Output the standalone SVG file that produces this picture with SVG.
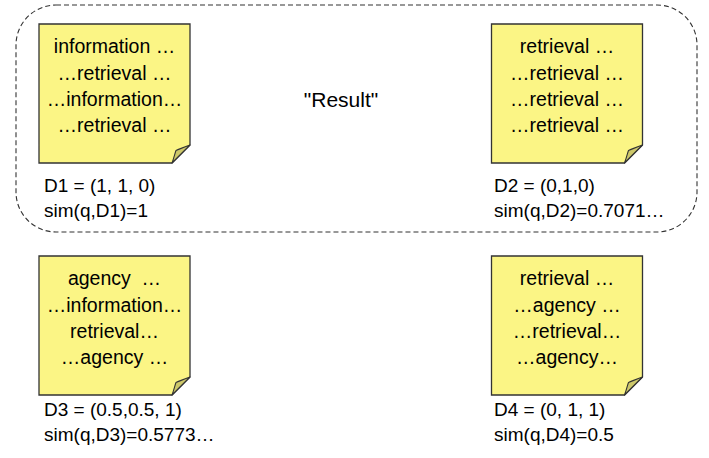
<svg xmlns="http://www.w3.org/2000/svg" width="709" height="458" viewBox="0 0 709 458">
<style>
text{font-family:"Liberation Sans",Arial,sans-serif;font-size:19px;fill:#000}
.c{text-anchor:middle;font-size:19.5px}
.r{font-size:21px;text-anchor:middle}
.note{fill:#fbf585;stroke:#333;stroke-width:1.3}
.fold{fill:#cdc86a;stroke:#333;stroke-width:1.1;stroke-linejoin:round}
.group{fill:none;stroke:#333;stroke-width:1.1;stroke-dasharray:5 3}
</style>
<defs>
<g id="sticky">
<path class="note" d="M0,0 H151 V121 L133,139 H0 Z"/>
<path class="fold" d="M133,139 C135,134 136,129 137,126.5 C142,124.5 146,122.5 151,121 Z"/>
</g>
</defs>
<g id="result-group">
<rect class="group" x="16" y="5" width="681" height="227" rx="40" ry="40"/>
<text class="r" x="341" y="107">"Result"</text>
</g>
<g id="connectors"/>
<g id="D1">
<use href="#sticky" x="39" y="24"/>
<text class="c" x="114.5" y="53">information …</text>
<text class="c" x="114.5" y="79.5">…retrieval …</text>
<text class="c" x="114.5" y="106">…information…</text>
<text class="c" x="114.5" y="132">…retrieval …</text>
<text x="44" y="192">D1 = (1, 1, 0)</text>
<text x="44" y="217">sim(q,D1)=1</text>
</g>
<g id="D2">
<use href="#sticky" x="491.5" y="24"/>
<text class="c" x="567" y="53">retrieval …</text>
<text class="c" x="567" y="79.5">…retrieval …</text>
<text class="c" x="567" y="106">…retrieval …</text>
<text class="c" x="567" y="132">…retrieval …</text>
<text x="494" y="192">D2 = (0,1,0)</text>
<text x="494" y="217">sim(q,D2)=0.7071…</text>
</g>
<g id="D3">
<use href="#sticky" x="39" y="256"/>
<text class="c" x="114.5" y="285">agency&#160; …</text>
<text class="c" x="114.5" y="311.5">…information…</text>
<text class="c" x="114.5" y="338">retrieval…</text>
<text class="c" x="114.5" y="364">…agency …</text>
<text x="44" y="416">D3 = (0.5,0.5, 1)</text>
<text x="44" y="441">sim(q,D3)=0.5773…</text>
</g>
<g id="D4">
<use href="#sticky" x="491.5" y="256"/>
<text class="c" x="567" y="285">retrieval …</text>
<text class="c" x="567" y="311.5">…agency …</text>
<text class="c" x="567" y="338">…retrieval…</text>
<text class="c" x="567" y="364">…agency…</text>
<text x="494" y="416">D4 = (0, 1, 1)</text>
<text x="494" y="441">sim(q,D4)=0.5</text>
</g>
</svg>
